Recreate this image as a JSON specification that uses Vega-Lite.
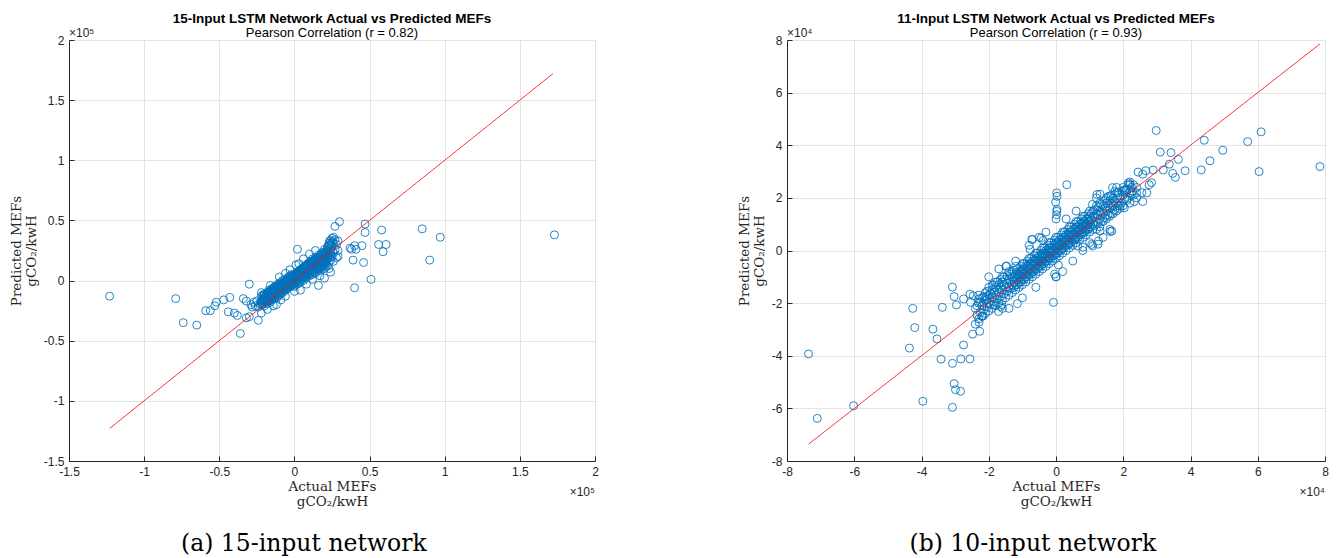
{
"$schema": "https://vega.github.io/schema/vega-lite/v6.json",
"padding": {"left": 9, "top": 11, "right": 5, "bottom": 5},
"spacing": 138,
"config": {
  "view": {"stroke": null},
  "axis": {"labelFont": "Liberation Sans", "labelFontSize": 12, "labelColor": "#262626", "titleFont": "DejaVu Serif", "titleFontSize": 13.5, "titleFontWeight": "normal", "titleColor": "#262626", "gridColor": "#e3e3e3", "gridWidth": 1, "domainColor": "#262626", "domainWidth": 1, "tickColor": "#262626", "tickSize": -5, "labelPadding": 10, "labelFlush": false, "labelOverlap": false, "titleLineHeight": 15},
  "axisX": {"titlePadding": 2},
  "axisY": {"titlePadding": 5},
  "title": {"font": "Liberation Sans", "fontSize": 13.5, "fontWeight": "bold", "color": "black", "subtitleFont": "Liberation Sans", "subtitleFontSize": 13, "subtitleColor": "black", "subtitlePadding": 2}
},
"datasets": {
"left": [
{"a":-123000,"p":-13000},{"a":-79000,"p":-15000},{"a":-74000,"p":-35000},{"a":-65000,"p":-37000},{"a":-59000,"p":-25000},{"a":-56000,"p":-25000},{"a":-53000,"p":-21000},{"a":-52000,"p":-18000},{"a":-47000,"p":-16000},{"a":-43000,"p":-14000},{"a":-44000,"p":-26000},{"a":-40000,"p":-27000},{"a":-38000,"p":-29000},{"a":-36000,"p":-44000},{"a":-34000,"p":-15000},{"a":-32000,"p":-17000},{"a":-32000,"p":-31000},{"a":-30000,"p":-30000},{"a":-30000,"p":-3000},{"a":-28000,"p":-22000},{"a":-26000,"p":-21000},{"a":-24000,"p":-33000},{"a":-22000,"p":-27000},{"a":-22000,"p":-10000},{"a":-25000,"p":-17000},{"a":-27000,"p":-18000},{"a":-23000,"p":-19000},{"a":-29000,"p":-20000},{"a":-24000,"p":-22000},
{"a":30000,"p":49000},{"a":27000,"p":45000},{"a":47000,"p":47000},{"a":58000,"p":42000},{"a":85000,"p":43000},{"a":97000,"p":36000},{"a":173000,"p":38000},{"a":47000,"p":40000},{"a":37000,"p":27000},{"a":40000,"p":29000},{"a":41000,"p":26000},{"a":56000,"p":30000},{"a":61000,"p":30000},{"a":59000,"p":24000},{"a":90000,"p":17000},{"a":39000,"p":17000},{"a":46000,"p":15000},{"a":51000,"p":1000},{"a":40000,"p":-6000},{"a":2000,"p":26000},{"a":1000,"p":13000},{"a":24000,"p":7000},{"a":16000,"p":-4000},{"a":29000,"p":20000},{"a":45000,"p":29000},{"a":38000,"p":26000},
{"a":-22000,"p":-20000},{"a":-22000,"p":-17000},{"a":-22000,"p":-13000},
{"a":-21000,"p":-19000},{"a":-21000,"p":-15000},{"a":-21000,"p":-12000},
{"a":-20000,"p":-21000},{"a":-20000,"p":-17000},{"a":-20000,"p":-14000},{"a":-20000,"p":-11000},
{"a":-19000,"p":-18000},{"a":-19000,"p":-15000},{"a":-19000,"p":-12000},
{"a":-18000,"p":-19000},{"a":-18000,"p":-16000},{"a":-18000,"p":-13000},{"a":-18000,"p":-10000},
{"a":-17000,"p":-17000},{"a":-17000,"p":-14000},{"a":-17000,"p":-11000},{"a":-17000,"p":-8000},
{"a":-16000,"p":-18000},{"a":-16000,"p":-15000},{"a":-16000,"p":-12000},{"a":-16000,"p":-9000},
{"a":-15000,"p":-16000},{"a":-15000,"p":-13000},{"a":-15000,"p":-10000},{"a":-15000,"p":-7000},
{"a":-14000,"p":-15000},{"a":-14000,"p":-12000},{"a":-14000,"p":-9000},{"a":-14000,"p":-6000},
{"a":-13000,"p":-14000},{"a":-13000,"p":-11000},{"a":-13000,"p":-8000},{"a":-13000,"p":-5000},
{"a":-12000,"p":-15000},{"a":-12000,"p":-12000},{"a":-12000,"p":-10000},{"a":-12000,"p":-7000},{"a":-12000,"p":-4000},
{"a":-11000,"p":-13000},{"a":-11000,"p":-10000},{"a":-11000,"p":-8000},{"a":-11000,"p":-5000},
{"a":-10000,"p":-12000},{"a":-10000,"p":-9000},{"a":-10000,"p":-7000},{"a":-10000,"p":-4000},{"a":-10000,"p":-2000},
{"a":-9000,"p":-11000},{"a":-9000,"p":-8000},{"a":-9000,"p":-6000},{"a":-9000,"p":-3000},
{"a":-8000,"p":-10000},{"a":-8000,"p":-7000},{"a":-8000,"p":-5000},{"a":-8000,"p":-3000},{"a":-8000,"p":0},
{"a":-7000,"p":-9000},{"a":-7000,"p":-6000},{"a":-7000,"p":-4000},{"a":-7000,"p":-2000},
{"a":-6000,"p":-8000},{"a":-6000,"p":-5000},{"a":-6000,"p":-3000},{"a":-6000,"p":-1000},{"a":-6000,"p":1000},
{"a":-5000,"p":-7000},{"a":-5000,"p":-4000},{"a":-5000,"p":-2000},{"a":-5000,"p":0},
{"a":-4000,"p":-6000},{"a":-4000,"p":-3000},{"a":-4000,"p":-1000},{"a":-4000,"p":1000},{"a":-4000,"p":3000},
{"a":-3000,"p":-5000},{"a":-3000,"p":-2000},{"a":-3000,"p":0},{"a":-3000,"p":2000},
{"a":-2000,"p":-4000},{"a":-2000,"p":-1000},{"a":-2000,"p":1000},{"a":-2000,"p":3000},{"a":-2000,"p":5000},
{"a":-1000,"p":-3000},{"a":-1000,"p":0},{"a":-1000,"p":2000},{"a":-1000,"p":4000},
{"a":0,"p":-5000},{"a":0,"p":-2000},{"a":0,"p":1000},{"a":0,"p":3000},{"a":0,"p":5000},
{"a":1000,"p":-1000},{"a":1000,"p":2000},{"a":1000,"p":4000},{"a":1000,"p":6000},
{"a":2000,"p":-3000},{"a":2000,"p":0},{"a":2000,"p":3000},{"a":2000,"p":5000},{"a":2000,"p":7000},
{"a":3000,"p":1000},{"a":3000,"p":4000},{"a":3000,"p":6000},{"a":3000,"p":8000},
{"a":4000,"p":-1000},{"a":4000,"p":2000},{"a":4000,"p":5000},{"a":4000,"p":7000},{"a":4000,"p":9000},
{"a":5000,"p":2000},{"a":5000,"p":5000},{"a":5000,"p":8000},{"a":5000,"p":10000},
{"a":6000,"p":0},{"a":6000,"p":3000},{"a":6000,"p":6000},{"a":6000,"p":9000},{"a":6000,"p":11000},
{"a":7000,"p":4000},{"a":7000,"p":7000},{"a":7000,"p":10000},{"a":7000,"p":12000},
{"a":8000,"p":2000},{"a":8000,"p":5000},{"a":8000,"p":8000},{"a":8000,"p":11000},{"a":8000,"p":13000},
{"a":9000,"p":6000},{"a":9000,"p":9000},{"a":9000,"p":12000},{"a":9000,"p":14000},
{"a":10000,"p":4000},{"a":10000,"p":7000},{"a":10000,"p":10000},{"a":10000,"p":13000},{"a":10000,"p":15000},
{"a":11000,"p":7000},{"a":11000,"p":10000},{"a":11000,"p":13000},{"a":11000,"p":16000},
{"a":12000,"p":5000},{"a":12000,"p":9000},{"a":12000,"p":12000},{"a":12000,"p":15000},{"a":12000,"p":18000},
{"a":13000,"p":8000},{"a":13000,"p":11000},{"a":13000,"p":14000},{"a":13000,"p":17000},
{"a":14000,"p":6000},{"a":14000,"p":10000},{"a":14000,"p":13000},{"a":14000,"p":16000},{"a":14000,"p":19000},
{"a":15000,"p":9000},{"a":15000,"p":12000},{"a":15000,"p":15000},{"a":15000,"p":18000},
{"a":16000,"p":8000},{"a":16000,"p":11000},{"a":16000,"p":14000},{"a":16000,"p":17000},{"a":16000,"p":21000},
{"a":17000,"p":10000},{"a":17000,"p":13000},{"a":17000,"p":16000},{"a":17000,"p":20000},
{"a":18000,"p":9000},{"a":18000,"p":12000},{"a":18000,"p":16000},{"a":18000,"p":19000},{"a":18000,"p":23000},
{"a":19000,"p":11000},{"a":19000,"p":15000},{"a":19000,"p":18000},{"a":19000,"p":22000},
{"a":20000,"p":10000},{"a":20000,"p":14000},{"a":20000,"p":17000},{"a":20000,"p":21000},{"a":20000,"p":26000},
{"a":21000,"p":13000},{"a":21000,"p":16000},{"a":21000,"p":20000},{"a":21000,"p":24000},
{"a":22000,"p":12000},{"a":22000,"p":18000},{"a":22000,"p":23000},{"a":22000,"p":28000},
{"a":23000,"p":15000},{"a":23000,"p":21000},{"a":23000,"p":27000},{"a":23000,"p":31000},
{"a":24000,"p":17000},{"a":24000,"p":25000},{"a":24000,"p":33000},
{"a":25000,"p":20000},{"a":25000,"p":29000},{"a":25000,"p":35000},
{"a":26000,"p":16000},{"a":26000,"p":23000},{"a":26000,"p":31000},{"a":26000,"p":36000},
{"a":27000,"p":26000},{"a":27000,"p":34000},
{"a":28000,"p":19000},{"a":28000,"p":30000},
{"a":29000,"p":25000},{"a":29000,"p":33000},
{"a":-12000,"p":-20000},{"a":-9000,"p":-16000},{"a":-6000,"p":-13000},{"a":4000,"p":-8000},{"a":8000,"p":-3000},{"a":12000,"p":1000},{"a":-16000,"p":-4000},{"a":-10000,"p":3000},{"a":-6000,"p":6000},{"a":-3000,"p":9000},{"a":3000,"p":14000},{"a":6000,"p":18000},{"a":10000,"p":22000},{"a":14000,"p":25000},{"a":-14000,"p":-21000},{"a":-18000,"p":-24000},{"a":0,"p":-9000},{"a":17000,"p":4000},{"a":20000,"p":2000},{"a":23000,"p":10000},
{"a":-21500,"p":-18500},{"a":-21500,"p":-15500},
{"a":-20500,"p":-19500},{"a":-20500,"p":-16000},{"a":-20500,"p":-12500},
{"a":-19500,"p":-17000},{"a":-19500,"p":-13500},
{"a":-18500,"p":-17500},{"a":-18500,"p":-14500},{"a":-18500,"p":-11500},
{"a":-17500,"p":-16000},{"a":-17500,"p":-12500},{"a":-17500,"p":-9500},
{"a":-16500,"p":-16500},{"a":-16500,"p":-13500},{"a":-16500,"p":-10500},
{"a":-15500,"p":-14500},{"a":-15500,"p":-11500},{"a":-15500,"p":-8500},
{"a":-14500,"p":-13500},{"a":-14500,"p":-10500},{"a":-14500,"p":-7500},
{"a":-13500,"p":-12500},{"a":-13500,"p":-9500},{"a":-13500,"p":-6500},
{"a":-12500,"p":-13500},{"a":-12500,"p":-11000},{"a":-12500,"p":-8500},{"a":-12500,"p":-5500},
{"a":-11500,"p":-11500},{"a":-11500,"p":-9000},{"a":-11500,"p":-6500},
{"a":-10500,"p":-10500},{"a":-10500,"p":-8000},{"a":-10500,"p":-5500},{"a":-10500,"p":-3000},
{"a":-9500,"p":-9500},{"a":-9500,"p":-7000},{"a":-9500,"p":-4500},
{"a":-8500,"p":-8500},{"a":-8500,"p":-6000},{"a":-8500,"p":-4000},{"a":-8500,"p":-1500},
{"a":-7500,"p":-7500},{"a":-7500,"p":-5000},{"a":-7500,"p":-3000},
{"a":-6500,"p":-6500},{"a":-6500,"p":-4000},{"a":-6500,"p":-2000},{"a":-6500,"p":500},
{"a":-5500,"p":-5500},{"a":-5500,"p":-3000},{"a":-5500,"p":-1000},
{"a":-4500,"p":-4500},{"a":-4500,"p":-2000},{"a":-4500,"p":0},{"a":-4500,"p":2000},
{"a":-3500,"p":-3500},{"a":-3500,"p":-1000},{"a":-3500,"p":1000},
{"a":-2500,"p":-2500},{"a":-2500,"p":0},{"a":-2500,"p":2000},{"a":-2500,"p":4000},
{"a":-1500,"p":-1500},{"a":-1500,"p":1000},{"a":-1500,"p":3000},
{"a":-500,"p":-4000},{"a":-500,"p":-500},{"a":-500,"p":2000},{"a":-500,"p":4500},
{"a":500,"p":500},{"a":500,"p":3000},{"a":500,"p":5000},
{"a":1500,"p":-1500},{"a":1500,"p":1500},{"a":1500,"p":4000},{"a":1500,"p":6500},
{"a":2500,"p":2500},{"a":2500,"p":4500},{"a":2500,"p":6000},
{"a":3500,"p":-500},{"a":3500,"p":3000},{"a":3500,"p":5500},{"a":3500,"p":7500},
{"a":4500,"p":3500},{"a":4500,"p":6500},{"a":4500,"p":8500},
{"a":5500,"p":1000},{"a":5500,"p":4500},{"a":5500,"p":7500},{"a":5500,"p":9500},
{"a":6500,"p":5000},{"a":6500,"p":8000},{"a":6500,"p":10500},
{"a":7500,"p":3000},{"a":7500,"p":6000},{"a":7500,"p":9000},{"a":7500,"p":11500},
{"a":8500,"p":7000},{"a":8500,"p":10000},{"a":8500,"p":12500},
{"a":9500,"p":5000},{"a":9500,"p":8000},{"a":9500,"p":11000},{"a":9500,"p":14000},
{"a":10500,"p":8500},{"a":10500,"p":11500},{"a":10500,"p":14500},
{"a":11500,"p":6000},{"a":11500,"p":9000},{"a":11500,"p":12000},{"a":11500,"p":15000},
{"a":12500,"p":9500},{"a":12500,"p":13000},{"a":12500,"p":16000},
{"a":13500,"p":7000},{"a":13500,"p":10500},{"a":13500,"p":14000},{"a":13500,"p":17500},
{"a":14500,"p":11000},{"a":14500,"p":14500},{"a":14500,"p":17500},
{"a":15500,"p":10000},{"a":15500,"p":13000},{"a":15500,"p":16500},{"a":15500,"p":19500},
{"a":16500,"p":12000},{"a":16500,"p":15500},{"a":16500,"p":19000},
{"a":17500,"p":11000},{"a":17500,"p":14500},{"a":17500,"p":18000},{"a":17500,"p":21500},
{"a":18500,"p":13500},{"a":18500,"p":17000},{"a":18500,"p":20500},
{"a":19500,"p":12500},{"a":19500,"p":16000},{"a":19500,"p":19500},{"a":19500,"p":23500},
{"a":20500,"p":15000},{"a":20500,"p":19000},{"a":20500,"p":22500},
{"a":21500,"p":17000},{"a":21500,"p":21000},{"a":21500,"p":25500},
{"a":22500,"p":20000},{"a":22500,"p":24500},{"a":22500,"p":29000},
{"a":23500,"p":19000},{"a":23500,"p":23000},{"a":23500,"p":29500},{"a":23500,"p":33000},
{"a":24500,"p":27000},{"a":24500,"p":31000},
{"a":25500,"p":24000},{"a":25500,"p":32500}
],
"right": [
{"a":-73600,"p":-39300},{"a":-71000,"p":-63800},{"a":-60200,"p":-59000},{"a":-43600,"p":-37100},{"a":-42600,"p":-22000},{"a":-42000,"p":-29300},{"a":-39600,"p":-57300},{"a":-36600,"p":-29900},{"a":-35400,"p":-33600},{"a":-34200,"p":-41300},{"a":-33800,"p":-21600},{"a":-30800,"p":-13900},{"a":-30800,"p":-42900},{"a":-30800,"p":-59600},{"a":-30300,"p":-17500},{"a":-30300,"p":-50600},{"a":-29900,"p":-52900},{"a":-29600,"p":-20700},{"a":-28400,"p":-53500},{"a":-28300,"p":-41200},{"a":-27500,"p":-35900},{"a":-27500,"p":-18400},{"a":-25600,"p":-41200},{"a":-25400,"p":-19700},{"a":-24800,"p":-31800},{"a":-24600,"p":-17200},{"a":-22900,"p":-27300},{"a":-22700,"p":-30700},{"a":-23000,"p":-18400},{"a":-22100,"p":-25000},{"a":-21700,"p":-24900},{"a":-20700,"p":-17500},{"a":-19000,"p":-13100},{"a":-18400,"p":-20500},{"a":-17100,"p":-23200},{"a":-16500,"p":-21300},{"a":-15900,"p":-22000},{"a":-11500,"p":-20200},{"a":-750,"p":-19700},{"a":-14900,"p":-6000},{"a":-400,"p":-9000},{"a":0,"p":-10000},{"a":700,"p":-5500},
{"a":29800,"p":45600},{"a":61000,"p":45100},{"a":57000,"p":41400},{"a":44100,"p":41900},{"a":49600,"p":38100},{"a":31000,"p":37400},{"a":34200,"p":37200},{"a":36400,"p":34600},{"a":45800,"p":34100},{"a":78500,"p":31900},{"a":60400,"p":30000},{"a":43200,"p":30600},{"a":38400,"p":30300},{"a":33700,"p":32800},{"a":31900,"p":30600},{"a":34700,"p":29300},{"a":35500,"p":27800},{"a":28900,"p":30600},{"a":26700,"p":30300},{"a":24400,"p":29800},{"a":25800,"p":29000},{"a":28400,"p":25800},{"a":27700,"p":25000},{"a":25500,"p":22000},{"a":25800,"p":18600},{"a":23300,"p":18600},{"a":22000,"p":25000},{"a":21000,"p":23000},{"a":21500,"p":25700},{"a":24000,"p":21900},{"a":27000,"p":21900},{"a":22800,"p":22600},{"a":3200,"p":25000},{"a":200,"p":21900},{"a":300,"p":20600},{"a":-100,"p":18400},{"a":200,"p":14900},{"a":200,"p":13600},{"a":0,"p":12000},{"a":300,"p":15600},{"a":16800,"p":23900},{"a":13100,"p":21400},{"a":12200,"p":21300},{"a":10800,"p":17500},{"a":18500,"p":22000},{"a":16000,"p":20700},{"a":20300,"p":23000},{"a":19000,"p":16900},{"a":20300,"p":16200},{"a":17000,"p":17500},{"a":13100,"p":7400},{"a":16100,"p":7200},{"a":12500,"p":2400},{"a":10600,"p":2300},{"a":12600,"p":3600},{"a":16600,"p":7400},{"a":10900,"p":1700},{"a":8000,"p":1300},{"a":6500,"p":1700},{"a":-7000,"p":4200},{"a":-4400,"p":4700},{"a":-3800,"p":3800},{"a":-7700,"p":400},{"a":-7200,"p":4200},{"a":-14700,"p":-5900},{"a":-25600,"p":-16600},{"a":-16100,"p":-20500},
{"a":-24000,"p":-28000},{"a":-24000,"p":-22000},
{"a":-23000,"p":-26000},{"a":-23000,"p":-20000},{"a":-23000,"p":-17000},
{"a":-22000,"p":-25000},{"a":-22000,"p":-21000},{"a":-22000,"p":-18000},
{"a":-21000,"p":-24000},{"a":-21000,"p":-19000},{"a":-21000,"p":-16000},
{"a":-20000,"p":-23000},{"a":-20000,"p":-20000},{"a":-20000,"p":-17000},{"a":-20000,"p":-14000},
{"a":-19000,"p":-22000},{"a":-19000,"p":-18000},{"a":-19000,"p":-15000},
{"a":-18000,"p":-21000},{"a":-18000,"p":-17000},{"a":-18000,"p":-14000},{"a":-18000,"p":-12000},
{"a":-17000,"p":-20000},{"a":-17000,"p":-16000},{"a":-17000,"p":-13000},
{"a":-16000,"p":-19000},{"a":-16000,"p":-15000},{"a":-16000,"p":-12000},{"a":-16000,"p":-10000},
{"a":-15000,"p":-18000},{"a":-15000,"p":-14000},{"a":-15000,"p":-11000},
{"a":-14000,"p":-17000},{"a":-14000,"p":-14000},{"a":-14000,"p":-11000},{"a":-14000,"p":-8000},
{"a":-13000,"p":-16000},{"a":-13000,"p":-13000},{"a":-13000,"p":-10000},{"a":-13000,"p":-8000},
{"a":-12000,"p":-15000},{"a":-12000,"p":-13000},{"a":-12000,"p":-11000},{"a":-12000,"p":-9000},{"a":-12000,"p":-6000},
{"a":-11000,"p":-14000},{"a":-11000,"p":-12000},{"a":-11000,"p":-10000},{"a":-11000,"p":-8000},
{"a":-10000,"p":-13000},{"a":-10000,"p":-11000},{"a":-10000,"p":-9000},{"a":-10000,"p":-7000},{"a":-10000,"p":-5000},
{"a":-9000,"p":-12000},{"a":-9000,"p":-10000},{"a":-9000,"p":-8000},{"a":-9000,"p":-6000},
{"a":-8000,"p":-11000},{"a":-8000,"p":-9000},{"a":-8000,"p":-7000},{"a":-8000,"p":-5000},{"a":-8000,"p":-3000},
{"a":-7000,"p":-10000},{"a":-7000,"p":-8000},{"a":-7000,"p":-6000},{"a":-7000,"p":-4000},
{"a":-6000,"p":-9000},{"a":-6000,"p":-7000},{"a":-6000,"p":-5000},{"a":-6000,"p":-3000},{"a":-6000,"p":-1000},
{"a":-5000,"p":-8000},{"a":-5000,"p":-6000},{"a":-5000,"p":-4000},{"a":-5000,"p":-2000},
{"a":-4000,"p":-7000},{"a":-4000,"p":-5000},{"a":-4000,"p":-3000},{"a":-4000,"p":-1000},{"a":-4000,"p":1000},
{"a":-3000,"p":-6000},{"a":-3000,"p":-4000},{"a":-3000,"p":-2000},{"a":-3000,"p":0},
{"a":-2000,"p":-5000},{"a":-2000,"p":-3000},{"a":-2000,"p":-1000},{"a":-2000,"p":1000},{"a":-2000,"p":3000},
{"a":-1000,"p":-4000},{"a":-1000,"p":-2000},{"a":-1000,"p":0},{"a":-1000,"p":2000},
{"a":0,"p":-3000},{"a":0,"p":-1000},{"a":0,"p":1000},{"a":0,"p":3000},{"a":0,"p":5000},
{"a":1000,"p":-2000},{"a":1000,"p":0},{"a":1000,"p":2000},{"a":1000,"p":4000},
{"a":2000,"p":-1000},{"a":2000,"p":1000},{"a":2000,"p":3000},{"a":2000,"p":5000},{"a":2000,"p":7000},
{"a":3000,"p":0},{"a":3000,"p":2000},{"a":3000,"p":4000},{"a":3000,"p":6000},
{"a":4000,"p":1000},{"a":4000,"p":3000},{"a":4000,"p":5000},{"a":4000,"p":7000},{"a":4000,"p":9000},
{"a":5000,"p":2000},{"a":5000,"p":4000},{"a":5000,"p":6000},{"a":5000,"p":8000},
{"a":6000,"p":3000},{"a":6000,"p":5000},{"a":6000,"p":7000},{"a":6000,"p":9000},{"a":6000,"p":11000},
{"a":7000,"p":4000},{"a":7000,"p":6000},{"a":7000,"p":8000},{"a":7000,"p":10000},
{"a":8000,"p":5000},{"a":8000,"p":7000},{"a":8000,"p":9000},{"a":8000,"p":11000},{"a":8000,"p":13000},
{"a":9000,"p":6000},{"a":9000,"p":8000},{"a":9000,"p":10000},{"a":9000,"p":12000},
{"a":10000,"p":7000},{"a":10000,"p":9000},{"a":10000,"p":11000},{"a":10000,"p":13000},{"a":10000,"p":15000},
{"a":11000,"p":8000},{"a":11000,"p":10000},{"a":11000,"p":13000},{"a":11000,"p":15000},
{"a":12000,"p":8000},{"a":12000,"p":11000},{"a":12000,"p":14000},{"a":12000,"p":17000},
{"a":13000,"p":9000},{"a":13000,"p":12000},{"a":13000,"p":15000},{"a":13000,"p":18000},
{"a":14000,"p":11000},{"a":14000,"p":14000},{"a":14000,"p":17000},
{"a":15000,"p":12000},{"a":15000,"p":15000},{"a":15000,"p":18000},{"a":15000,"p":20000},
{"a":16000,"p":13000},{"a":16000,"p":16000},{"a":16000,"p":19000},
{"a":17000,"p":14000},{"a":17000,"p":17000},{"a":17000,"p":20000},
{"a":18000,"p":15000},{"a":18000,"p":18000},{"a":18000,"p":22000},
{"a":19000,"p":16000},{"a":19000,"p":20000},
{"a":20000,"p":17000},{"a":20000,"p":21000},{"a":20000,"p":24000},
{"a":21000,"p":19000},{"a":21000,"p":23000},
{"a":22000,"p":18000},{"a":22000,"p":22000},{"a":22000,"p":26000},
{"a":23000,"p":21000},{"a":23000,"p":25000},
{"a":24000,"p":20000},{"a":24000,"p":24000},
{"a":-8000,"p":2000},{"a":-5000,"p":5000},{"a":-3000,"p":7000},{"a":0,"p":-10000},{"a":2000,"p":-8000},{"a":5000,"p":-4000},{"a":8000,"p":0},{"a":10000,"p":3000},{"a":12000,"p":20000},{"a":6000,"p":15000},{"a":-10000,"p":-18000},{"a":-14000,"p":-22000},{"a":-6000,"p":-14000},{"a":-12000,"p":-4000},{"a":-17000,"p":-7000},{"a":3000,"p":12000},{"a":14000,"p":5000},{"a":16000,"p":8000},{"a":18000,"p":24000},{"a":-20000,"p":-10000},
{"a":-23500,"p":-24500},{"a":-23500,"p":-21000},
{"a":-22500,"p":-23500},{"a":-22500,"p":-19500},
{"a":-21500,"p":-22500},{"a":-21500,"p":-20000},{"a":-21500,"p":-17500},
{"a":-20500,"p":-21500},{"a":-20500,"p":-18500},{"a":-20500,"p":-15500},
{"a":-19500,"p":-20500},{"a":-19500,"p":-16500},
{"a":-18500,"p":-19500},{"a":-18500,"p":-16000},{"a":-18500,"p":-13000},
{"a":-17500,"p":-18500},{"a":-17500,"p":-15000},{"a":-17500,"p":-12000},
{"a":-16500,"p":-17500},{"a":-16500,"p":-14000},{"a":-16500,"p":-11000},
{"a":-15500,"p":-16500},{"a":-15500,"p":-13000},{"a":-15500,"p":-10000},
{"a":-14500,"p":-15500},{"a":-14500,"p":-12500},{"a":-14500,"p":-9500},
{"a":-13500,"p":-14500},{"a":-13500,"p":-12000},{"a":-13500,"p":-9000},
{"a":-12500,"p":-14000},{"a":-12500,"p":-12000},{"a":-12500,"p":-10000},{"a":-12500,"p":-7500},
{"a":-11500,"p":-13000},{"a":-11500,"p":-11000},{"a":-11500,"p":-9000},{"a":-11500,"p":-7000},
{"a":-10500,"p":-12000},{"a":-10500,"p":-10000},{"a":-10500,"p":-8000},{"a":-10500,"p":-6000},
{"a":-9500,"p":-11000},{"a":-9500,"p":-9000},{"a":-9500,"p":-7000},{"a":-9500,"p":-5000},
{"a":-8500,"p":-10000},{"a":-8500,"p":-8000},{"a":-8500,"p":-6000},{"a":-8500,"p":-4000},
{"a":-7500,"p":-9000},{"a":-7500,"p":-7000},{"a":-7500,"p":-5000},{"a":-7500,"p":-3000},
{"a":-6500,"p":-8000},{"a":-6500,"p":-6000},{"a":-6500,"p":-4000},{"a":-6500,"p":-2000},
{"a":-5500,"p":-7000},{"a":-5500,"p":-5000},{"a":-5500,"p":-3000},{"a":-5500,"p":-1000},
{"a":-4500,"p":-6000},{"a":-4500,"p":-4000},{"a":-4500,"p":-2000},{"a":-4500,"p":0},
{"a":-3500,"p":-5000},{"a":-3500,"p":-3000},{"a":-3500,"p":-1000},{"a":-3500,"p":1000},
{"a":-2500,"p":-4000},{"a":-2500,"p":-2000},{"a":-2500,"p":0},{"a":-2500,"p":2000},
{"a":-1500,"p":-3000},{"a":-1500,"p":-1000},{"a":-1500,"p":1000},{"a":-1500,"p":3000},
{"a":-500,"p":-2000},{"a":-500,"p":0},{"a":-500,"p":2000},{"a":-500,"p":4000},
{"a":500,"p":-1000},{"a":500,"p":1000},{"a":500,"p":3000},{"a":500,"p":5000},
{"a":1500,"p":0},{"a":1500,"p":2000},{"a":1500,"p":4000},{"a":1500,"p":6000},
{"a":2500,"p":1000},{"a":2500,"p":3000},{"a":2500,"p":5000},{"a":2500,"p":7000},
{"a":3500,"p":2000},{"a":3500,"p":4000},{"a":3500,"p":6000},{"a":3500,"p":8000},
{"a":4500,"p":3000},{"a":4500,"p":5000},{"a":4500,"p":7000},{"a":4500,"p":9000},
{"a":5500,"p":4000},{"a":5500,"p":6000},{"a":5500,"p":8000},{"a":5500,"p":10000},
{"a":6500,"p":5000},{"a":6500,"p":7000},{"a":6500,"p":9000},{"a":6500,"p":11000},
{"a":7500,"p":6000},{"a":7500,"p":8000},{"a":7500,"p":10000},{"a":7500,"p":12000},
{"a":8500,"p":7000},{"a":8500,"p":9000},{"a":8500,"p":11000},{"a":8500,"p":13000},
{"a":9500,"p":8000},{"a":9500,"p":10000},{"a":9500,"p":12000},{"a":9500,"p":14000},
{"a":10500,"p":9000},{"a":10500,"p":11500},{"a":10500,"p":14000},
{"a":11500,"p":9500},{"a":11500,"p":12500},{"a":11500,"p":15500},
{"a":12500,"p":10500},{"a":12500,"p":13500},{"a":12500,"p":16500},
{"a":13500,"p":11000},{"a":13500,"p":14500},{"a":13500,"p":17500},
{"a":14500,"p":12500},{"a":14500,"p":16000},{"a":14500,"p":19000},
{"a":15500,"p":13500},{"a":15500,"p":17000},{"a":15500,"p":20500},
{"a":16500,"p":14000},{"a":16500,"p":18000},{"a":16500,"p":21000},
{"a":17500,"p":15500},{"a":17500,"p":19000},{"a":17500,"p":22500},
{"a":18500,"p":17000},{"a":18500,"p":21000},
{"a":19500,"p":18000},{"a":19500,"p":22500},
{"a":20500,"p":19500},{"a":20500,"p":23000},
{"a":21500,"p":20000},{"a":21500,"p":25000},
{"a":22500,"p":21500},{"a":22500,"p":24000},
{"a":-11200,"p":-9400},{"a":-9800,"p":-7600},{"a":-8600,"p":-8800},{"a":-7300,"p":-5200},{"a":-6200,"p":-6800},{"a":-5100,"p":-3600},{"a":-4200,"p":-4400},{"a":-3300,"p":-1300},{"a":-2200,"p":-2600},{"a":-1300,"p":-300},{"a":-400,"p":-1600},{"a":700,"p":1800},{"a":1600,"p":700},{"a":2700,"p":3600},{"a":3800,"p":2400},{"a":4700,"p":5800},{"a":5600,"p":4300},{"a":6800,"p":7700},{"a":7700,"p":6400},{"a":8800,"p":9700},{"a":9700,"p":8300}
]
},
"hconcat": [
{
  "title": {"text": "(a) 15-input network", "orient": "bottom", "anchor": "middle", "frame": "bounds", "font": "DejaVu Serif", "fontSize": 23.5, "fontWeight": "normal", "color": "black", "offset": 24},
  "vconcat": [
  {
    "width": 526, "height": 421,
    "title": {"text": "15-Input LSTM Network Actual vs Predicted MEFs", "subtitle": "Pearson Correlation (r = 0.82)", "anchor": "middle", "frame": "group", "offset": -13},
    "encoding": {
      "x": {"field": "a", "type": "quantitative", "scale": {"domain": [-150000, 200000], "nice": false, "zero": false}, "axis": {"values": [-150000, -100000, -50000, 0, 50000, 100000, 150000, 200000], "labelExpr": "datum.value / 100000", "title": ["Actual MEFs", "gCO₂/kwH"]}},
      "y": {"field": "p", "type": "quantitative", "scale": {"domain": [-150000, 200000], "nice": false, "zero": false}, "axis": {"values": [-150000, -100000, -50000, 0, 50000, 100000, 150000, 200000], "labelExpr": "datum.value / 100000", "title": ["Predicted MEFs", "gCO₂/kwH"]}}
    },
    "layer": [
      {"data": {"name": "left"}, "mark": {"type": "point", "shape": "circle", "filled": false, "color": "#0072BD", "strokeWidth": 1, "size": 64, "opacity": 0.85}},
      {"data": {"values": [{"a": -123000, "p": -123000}, {"a": 172000, "p": 172000}]}, "mark": {"type": "line", "color": "#ff0000", "strokeWidth": 0.8}},
      {"data": {"values": [{"a": -150000, "p": 200000, "t": "×10⁵"}]}, "mark": {"type": "text", "align": "left", "baseline": "alphabetic", "dy": -3, "font": "Liberation Sans, DejaVu Sans", "fontSize": 12, "color": "#262626"}, "encoding": {"text": {"field": "t"}}},
      {"data": {"values": [{"a": 200000, "p": -150000, "t": "×10⁵"}]}, "mark": {"type": "text", "align": "right", "baseline": "alphabetic", "dy": 35, "font": "Liberation Sans, DejaVu Sans", "fontSize": 12, "color": "#262626"}, "encoding": {"text": {"field": "t"}}}
    ]
  }
  ]
},
{
  "title": {"text": "(b) 10-input network", "orient": "bottom", "anchor": "middle", "frame": "bounds", "font": "DejaVu Serif", "fontSize": 23.5, "fontWeight": "normal", "color": "black", "offset": 24},
  "vconcat": [
  {
    "width": 538, "height": 421,
    "title": {"text": "11-Input LSTM Network Actual vs Predicted MEFs", "subtitle": "Pearson Correlation (r = 0.93)", "anchor": "middle", "frame": "group", "offset": -13},
    "encoding": {
      "x": {"field": "a", "type": "quantitative", "scale": {"domain": [-80000, 80000], "nice": false, "zero": false}, "axis": {"values": [-80000, -60000, -40000, -20000, 0, 20000, 40000, 60000, 80000], "labelExpr": "datum.value / 10000", "title": ["Actual MEFs", "gCO₂/kwH"]}},
      "y": {"field": "p", "type": "quantitative", "scale": {"domain": [-80000, 80000], "nice": false, "zero": false}, "axis": {"values": [-80000, -60000, -40000, -20000, 0, 20000, 40000, 60000, 80000], "labelExpr": "datum.value / 10000", "title": ["Predicted MEFs", "gCO₂/kwH"]}}
    },
    "layer": [
      {"data": {"name": "right"}, "mark": {"type": "point", "shape": "circle", "filled": false, "color": "#0072BD", "strokeWidth": 1, "size": 64, "opacity": 0.85}},
      {"data": {"values": [{"a": -73600, "p": -73600}, {"a": 78500, "p": 78500}]}, "mark": {"type": "line", "color": "#ff0000", "strokeWidth": 0.8}},
      {"data": {"values": [{"a": -80000, "p": 80000, "t": "×10⁴"}]}, "mark": {"type": "text", "align": "left", "baseline": "alphabetic", "dy": -3, "font": "Liberation Sans, DejaVu Sans", "fontSize": 12, "color": "#262626"}, "encoding": {"text": {"field": "t"}}},
      {"data": {"values": [{"a": 80000, "p": -80000, "t": "×10⁴"}]}, "mark": {"type": "text", "align": "right", "baseline": "alphabetic", "dy": 35, "font": "Liberation Sans, DejaVu Sans", "fontSize": 12, "color": "#262626"}, "encoding": {"text": {"field": "t"}}}
    ]
  }
  ]
}
]
}
